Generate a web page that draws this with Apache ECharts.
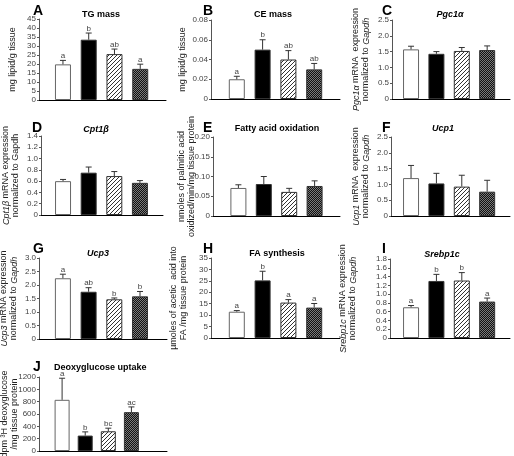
<!DOCTYPE html>
<html><head><meta charset="utf-8">
<script src="https://cdn.jsdelivr.net/npm/echarts@6/dist/echarts.min.js"></script>
<style>html,body{margin:0;padding:0;background:#fff}#c{width:514px;height:456px}</style>
</head><body><div id="c"></div>
<script>
// ---------- data ----------
const groups = ['Group 1', 'Group 2', 'Group 3', 'Group 4'];

const tgMass = [19.8, 33.5, 25.5, 17.3];
const tgMassErr = [2.2, 3.7, 2.8, 2.6];
const tgMassLetters = ['a', 'b', 'ab', 'a'];

const ceMass = [0.020, 0.050, 0.040, 0.030];
const ceMassErr = [0.003, 0.010, 0.009, 0.006];
const ceMassLetters = ['a', 'b', 'ab', 'ab'];

const pgc1a = [1.57, 1.43, 1.52, 1.55];
const pgc1aErr = [0.10, 0.07, 0.11, 0.13];

const cpt1b = [0.60, 0.75, 0.69, 0.57];
const cpt1bErr = [0.03, 0.10, 0.08, 0.04];

const faOxidation = [0.071, 0.081, 0.061, 0.076];
const faOxidationErr = [0.008, 0.019, 0.009, 0.013];

const ucp1 = [1.20, 1.03, 0.93, 0.77];
const ucp1Err = [0.40, 0.32, 0.36, 0.36];

const ucp3 = [2.25, 1.75, 1.47, 1.58];
const ucp3Err = [0.15, 0.15, 0.05, 0.18];
const ucp3Letters = ['a', 'ab', 'b', 'b'];

const faSynthesis = [11.5, 25.2, 15.5, 13.3];
const faSynthesisErr = [0.5, 4.0, 1.3, 1.8];
const faSynthesisLetters = ['a', 'b', 'a', 'a'];

const srebp1c = [0.70, 1.30, 1.31, 0.83];
const srebp1cErr = [0.04, 0.15, 0.18, 0.08];
const srebp1cLetters = ['a', 'b', 'b', 'a'];

const deoxyglucose = [830, 250, 320, 630];
const deoxyglucoseErr = [350, 60, 50, 85];
const deoxyglucoseLetters = ['a', 'b', 'bc', 'ac'];

// ---------- patterns ----------
function makeHatch() {
  const c = document.createElement('canvas'); c.width = 4; c.height = 4;
  const g = c.getContext('2d');
  g.fillStyle = '#ffffff'; g.fillRect(0, 0, 4, 4);
  g.fillStyle = '#333333';
  for (let i = 0; i < 4; i++) g.fillRect(i, 3 - i, 1, 1);
  return c;
}
function makeChecker() {
  const c = document.createElement('canvas'); c.width = 2; c.height = 2;
  const g = c.getContext('2d');
  g.fillStyle = '#111111'; g.fillRect(0, 0, 2, 2);
  g.fillStyle = '#7a7a7a'; g.fillRect(0, 0, 1, 1); g.fillRect(1, 1, 1, 1);
  return c;
}
const fills = ['#ffffff', '#000000', { image: makeHatch(), repeat: 'repeat' }, { image: makeChecker(), repeat: 'repeat' }];

const FONT = 'Liberation Sans, Arial, sans-serif';

// ---------- panels (layout) ----------
const panels = [
  { letter: 'A', lx: 33, ly: 4, title: 'TG mass', italic: false, tx: 101, ty: 15, talign: 'center',
    values: tgMass, errors: tgMassErr, letters: tgMassLetters, ymax: 45, step: 5, dec: 0,
    grid: { left: 39, top: 19, width: 127, height: 81 }, xr: [0.07, 5.0], bw: 16,
    yname: 'mg lipid/g tissue', nx: 13 },
  { letter: 'B', lx: 203, ly: 4, title: 'CE mass', italic: false, tx: 273, ty: 15, talign: 'center',
    values: ceMass, errors: ceMassErr, letters: ceMassLetters, ymax: 0.08, step: 0.02, dec: 2,
    grid: { left: 211, top: 20, width: 129, height: 79 }, xr: [0, 5], bw: 16,
    yname: 'mg lipid/g tissue', nx: 183 },
  { letter: 'C', lx: 382, ly: 4, title: 'Pgc1α', italic: true, tx: 450, ty: 15, talign: 'center',
    values: pgc1a, errors: pgc1aErr, letters: null, ymax: 2.5, step: 0.5, dec: 1,
    grid: { left: 392, top: 20, width: 118, height: 79 }, xr: [0.25, 4.9], bw: 16,
    yname: '{i|Pgc1α} mRNA  expression\nnormalized to {i|Gapdh}', nx: 361 },
  { letter: 'D', lx: 32, ly: 121, title: 'Cpt1β', italic: true, tx: 96, ty: 130, talign: 'center',
    values: cpt1b, errors: cpt1bErr, letters: null, ymax: 1.4, step: 0.2, dec: 1,
    grid: { left: 41, top: 136, width: 122, height: 79 }, xr: [0.14, 4.9], bw: 16,
    yname: '{i|Cpt1β} mRNA expression\nnormalized to Gapdh', nx: 11 },
  { letter: 'E', lx: 203, ly: 121, title: 'Fatty acid oxidation', italic: false, tx: 277, ty: 129, talign: 'center',
    values: faOxidation, errors: faOxidationErr, letters: null, ymax: 0.20, step: 0.05, dec: 2,
    grid: { left: 213, top: 137, width: 127, height: 79 }, xr: [0, 5], bw: 16,
    yname: 'nmoles of palmitic acid\noxidized/min/mg tissue protein', nx: 187 },
  { letter: 'F', lx: 382, ly: 121, title: 'Ucp1', italic: true, tx: 443, ty: 129, talign: 'center',
    values: ucp1, errors: ucp1Err, letters: null, ymax: 2.5, step: 0.5, dec: 1,
    grid: { left: 391, top: 137, width: 119, height: 79 }, xr: [0.21, 4.9], bw: 16,
    yname: '{i|Ucp1} mRNA  expression\nnormalized to {i|Gapdh}', nx: 361 },
  { letter: 'G', lx: 33, ly: 242, title: 'Ucp3', italic: true, tx: 98, ty: 254, talign: 'center',
    values: ucp3, errors: ucp3Err, letters: ucp3Letters, ymax: 3.0, step: 0.5, dec: 1,
    grid: { left: 39, top: 258, width: 128, height: 81 }, xr: [0.07, 5.05], bw: 16,
    yname: '{i|Ucp3} mRNA expression\nnormalized to {i|Gapdh}', nx: 9 },
  { letter: 'H', lx: 203, ly: 242, title: 'FA synthesis', italic: false, tx: 277, ty: 254, talign: 'center',
    values: faSynthesis, errors: faSynthesisErr, letters: faSynthesisLetters, ymax: 35, step: 5, dec: 0,
    grid: { left: 211, top: 258, width: 129, height: 80 }, xr: [0, 5], bw: 16,
    yname: 'µmoles of acetic  acid into\nFA /mg tissue protein', nx: 179 },
  { letter: 'I', lx: 382, ly: 242, title: 'Srebp1c', italic: true, tx: 442, ty: 255, talign: 'center',
    values: srebp1c, errors: srebp1cErr, letters: srebp1cLetters, ymax: 1.8, step: 0.2, dec: 1,
    grid: { left: 390, top: 259, width: 120, height: 79 }, xr: [0.17, 4.9], bw: 16,
    yname: '{i|Srebp1c} mRNA expression\nnormalized to {i|Gapdh}', nx: 348 },
  { letter: 'J', lx: 33, ly: 360, title: 'Deoxyglucose uptake', italic: false, tx: 54, ty: 368, talign: 'left',
    values: deoxyglucose, errors: deoxyglucoseErr, letters: deoxyglucoseLetters, ymax: 1200, step: 200, dec: 0,
    grid: { left: 39, top: 377, width: 128, height: 74 }, xr: [0, 5.54], bw: 15,
    yname: 'dpm ³H deoxyglucose\n/mg tissue protein', nx: 10 }
];

// ---------- build option ----------
const grid = [], xAxis = [], yAxis = [], series = [], graphic = [];
panels.forEach((p, k) => {
  grid.push(Object.assign({ outerBoundsMode: 'none', containLabel: false }, p.grid));
  xAxis.push({ type: 'value', gridIndex: k, min: p.xr[0], max: p.xr[1],
    axisLine: { show: true, onZero: false, lineStyle: { color: '#000', width: 1 } },
    axisTick: { show: false }, axisLabel: { show: false }, splitLine: { show: false } });
  yAxis.push({ type: 'value', gridIndex: k, min: 0, max: p.ymax, interval: p.step,
    axisLine: { show: true, lineStyle: { color: '#555', width: 1 } },
    axisTick: { show: true, length: 2, lineStyle: { color: '#555' } },
    splitLine: { show: false },
    axisLabel: { fontSize: 8, fontFamily: FONT, color: '#444', margin: 3,
      formatter: v => (v === 0 ? '0' : v.toFixed(p.dec)) } });
  series.push({ type: 'bar', xAxisIndex: k, yAxisIndex: k, barWidth: p.bw, silent: true,
    data: p.values.map((v, i) => ({ value: [i + 1, v],
      itemStyle: { color: fills[i], borderColor: i === 0 ? '#666' : '#333', borderWidth: 1 } })) });
  series.push({ type: 'custom', xAxisIndex: k, yAxisIndex: k, silent: true, z: 5,
    data: p.values.map((v, i) => [i + 1, v, p.errors[i]]),
    renderItem: (params, api) => {
      const x = api.value(0), v = api.value(1), e = api.value(2);
      const a = api.coord([x, v]), b = api.coord([x, v + e]);
      const children = [
        { type: 'line', shape: { x1: a[0], y1: a[1], x2: b[0], y2: b[1] }, style: { stroke: '#333', lineWidth: 1 } },
        { type: 'line', shape: { x1: b[0] - 3, y1: b[1], x2: b[0] + 3, y2: b[1] }, style: { stroke: '#333', lineWidth: 1 } }
      ];
      if (p.letters) {
        children.push({ type: 'text', x: b[0], y: b[1] - 0.5,
          style: { text: p.letters[params.dataIndex], fontSize: 8, fontFamily: FONT, fill: '#444',
            align: 'center', verticalAlign: 'bottom' } });
      }
      return { type: 'group', children };
    } });
  graphic.push({ type: 'text', left: p.lx, top: p.ly,
    style: { text: p.letter, fontSize: 14, fontWeight: 'bold', fontFamily: FONT, fill: '#000' } });
  graphic.push({ type: 'text', x: p.tx, y: p.ty,
    style: { text: p.title, fontSize: 9, fontWeight: 'bold', fontStyle: p.italic ? 'italic' : 'normal',
      fontFamily: FONT, fill: '#000', align: p.talign, verticalAlign: 'middle' } });
  const cy = p.grid.top + p.grid.height / 2;
  graphic.push({ type: 'text', x: p.nx, y: cy, rotation: Math.PI / 2,
    style: { text: p.yname, fontSize: 9, fontFamily: FONT, fill: '#222', align: 'center', verticalAlign: 'middle',
      lineHeight: 10,
      rich: { i: { fontStyle: 'italic', fontSize: 9, fontFamily: FONT, fill: '#222', lineHeight: 10 } } } });
});

const chart = echarts.init(document.getElementById('c'), null, { renderer: 'canvas' });
chart.setOption({ animation: false, backgroundColor: '#fff', grid, xAxis, yAxis, series, graphic });
</script></body></html>
